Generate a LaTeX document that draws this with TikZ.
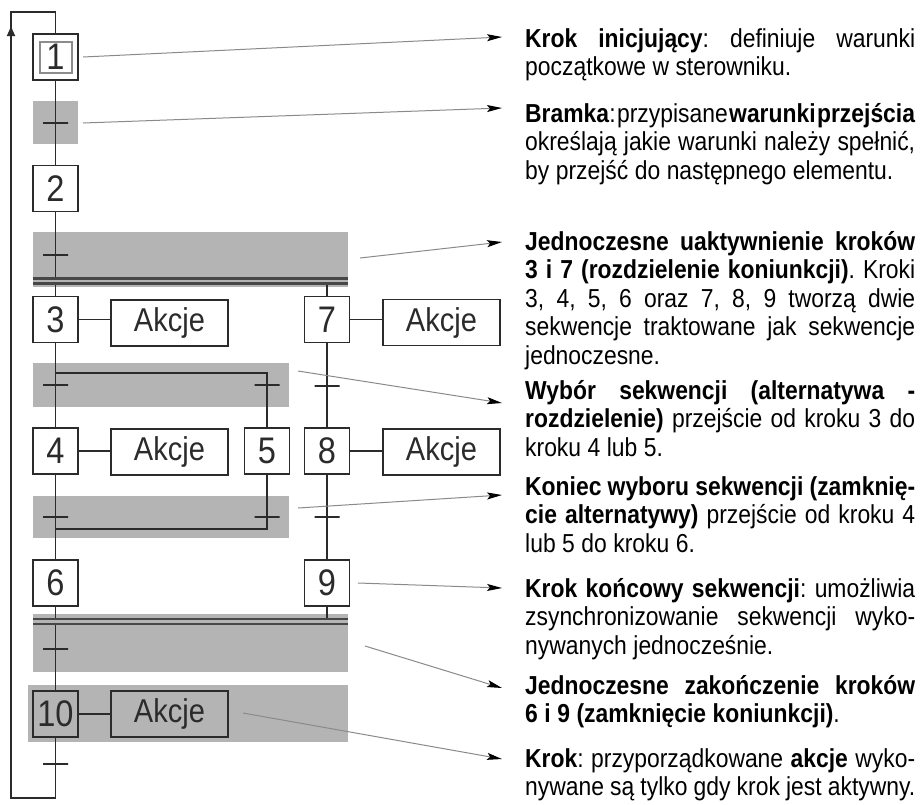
\documentclass[tikz,border=0pt]{standalone}
\usepackage{fontspec}
\setmainfont{Liberation Sans}[FakeStretch=0.88]
\usetikzlibrary{arrows.meta}
\definecolor{ink}{HTML}{2B2B2B}
\definecolor{bandgray}{HTML}{B4B4B4}
\definecolor{leadgray}{HTML}{8A8A8A}
\newcommand{\notefont}{\fontsize{26}{28.5}\selectfont\frenchspacing
  \spaceskip=0.25em plus 0.8em minus 0.21em\relax
  \tolerance=9999\hyphenpenalty=10000\relax}
\tikzset{
  >=Latex,
  every node/.style={text=ink},
  stepbox/.style={draw=ink,line width=1.5pt,fill=white,minimum width=45pt,minimum height=46pt,inner sep=0pt,font=\fontsize{37}{37}\selectfont},
  initframe/.style={draw=black!45,line width=1.2pt,minimum width=32pt,minimum height=31pt,inner sep=0pt},
  actbox/.style={draw=ink,line width=1.4pt,fill=white,minimum width=117pt,minimum height=46pt,inner sep=0pt,font=\fontsize{33}{33}\selectfont},
  band/.style={fill=bandgray,draw=none,inner sep=0pt},
  tickmark/.style={draw=ink,line width=1.5pt,minimum width=25pt,minimum height=0pt,inner sep=0pt,outer sep=0pt},
  conn/.style={draw=ink,line width=1.6pt},
  syncbar/.style={draw=black!72,line width=2.2pt,double=bandgray,double distance=2.8pt},
  leader/.style={draw=leadgray,line width=1pt,-{Stealth[length=15pt,width=7pt,inset=3pt,color=black]}},
  note/.style={text width=390pt,align=justify,inner sep=0pt,text=black,font=\notefont},
}

\begin{document}
\begin{tikzpicture}[x=1pt,y=-1pt]
  \useasboundingbox (0,0) rectangle (921,804);

  % transition bands
  \node[band,minimum width=45pt,minimum height=43pt] (g1) at (55.5,122.5) {};
  \node[band,minimum width=315pt,minimum height=55pt] (g2) at (190.5,259.5) {};
  \node[band,minimum width=256pt,minimum height=44pt] (g3) at (161,385) {};
  \node[band,minimum width=256pt,minimum height=42pt] (g4) at (161,517) {};
  \node[band,minimum width=315pt,minimum height=58pt] (g5) at (190.5,643) {};
  \node[band,minimum width=320pt,minimum height=57pt] (g6) at (188,713.5) {};

  % steps
  \node[stepbox] (s1) at (55.5,57) {1};
  \node[initframe] (s1in) at (56,57.5) {};
  \node[stepbox] (s2) at (55.5,188.5) {2};
  \node[stepbox] (s3) at (55.5,319.5) {3};
  \node[stepbox] (s4) at (55.5,451) {4};
  \node[stepbox] (s5) at (267,451) {5};
  \node[stepbox] (s6) at (55.5,583) {6};
  \node[stepbox] (s7) at (327,319.5) {7};
  \node[stepbox] (s8) at (327,451) {8};
  \node[stepbox] (s9) at (327,583) {9};
  \node[stepbox,fill=none] (s10) at (55.5,714) {10};

  % actions
  \node[actbox] (act3) at (169.5,323) {Akcje};
  \node[actbox] (act4) at (169.5,452) {Akcje};
  \node[actbox] (act7) at (441.5,322.5) {Akcje};
  \node[actbox] (act8) at (441.5,452) {Akcje};
  \node[actbox,fill=none] (act10) at (169.5,714) {Akcje};

  % transitions
  \node[tickmark] (tr1) at (55.5,123) {};
  \node[tickmark] (tr2) at (55.5,255) {};
  \node[tickmark] (tr3a) at (55.5,385) {};
  \node[tickmark] (tr3b) at (267,385) {};
  \node[tickmark] (tr3c) at (327,386) {};
  \node[tickmark] (tr4a) at (55.5,517) {};
  \node[tickmark] (tr4b) at (267,517) {};
  \node[tickmark] (tr4c) at (327,517) {};
  \node[tickmark] (tr5) at (55.5,649) {};
  \node[tickmark] (tr6) at (55.5,764) {};

  \coordinate (sb1w) at (33,281);
  \coordinate (sb1e) at (348,281);
  \coordinate (sb2w) at (33,621.5);
  \coordinate (sb2e) at (348,621.5);
  \coordinate (orsplit) at (55.5,373);
  \coordinate (orjoin) at (55.5,529);
  \coordinate (rb) at (55.5,798);
  \coordinate (rl) at (11,798);
  \coordinate (rt) at (11,12);
  \coordinate (r1) at (55.5,12);
  \coordinate (rarr) at (11,25);

  % sequence links
  \draw[conn] (s1) -- (s2);
  \draw[conn] (s2) -- (s2 |- sb1w);
  \draw[conn] (s3 |- sb1w) -- (s3);
  \draw[conn] (s7 |- sb1w) -- (s7);
  \draw[conn] (s3) -- (s4);
  \draw[conn] (orsplit) -| (s5);
  \draw[conn] (s4) -- (s6);
  \draw[conn] (s5) |- (orjoin);
  \draw[conn] (s7) -- (s8);
  \draw[conn] (s8) -- (s9);
  \draw[conn] (s6) -- (s6 |- sb2w);
  \draw[conn] (s9) -- (s9 |- sb2w);
  \draw[conn] (s10 |- sb2w) -- (s10);
  \draw[conn] (s10) -- (rb) -- (rl) -- (rt) -- (r1) -- (s1);
  \draw[conn,-{Latex[length=11pt,width=9pt]}] (rl) -- (rarr);
  \draw[syncbar] (sb1w) -- (sb1e);
  \draw[syncbar] (sb2w) -- (sb2e);

  \draw[conn] (s3.east) -- (s3.east -| act3.west);
  \draw[conn] (s4.east) -- (s4.east -| act4.west);
  \draw[conn] (s7.east) -- (s7.east -| act7.west);
  \draw[conn] (s8.east) -- (s8.east -| act8.west);
  \draw[conn] (s10.east) -- (s10.east -| act10.west);

  % descriptions
  \node[note,anchor=base west] (n1) at (525,47) {\textbf{Krok inicjujący}: definiuje warunki\linebreak
    początkowe w sterowniku.};
  \node[note,anchor=base west] (n2) at (525,122) {\textbf{Bramka}: przypisane \textbf{warunki przejścia}\linebreak
    określają jakie warunki należy spełnić,\linebreak by przejść do następnego elementu.};
  \node[note,anchor=base west] (n3) at (525,250) {\textbf{Jednoczesne uaktywnienie kroków}\linebreak
    \textbf{3 i 7 (rozdzielenie koniunkcji)}. Kroki\linebreak 3, 4, 5, 6 oraz 7, 8, 9 tworzą dwie\linebreak
    sekwencje traktowane jak sekwencje\linebreak jednoczesne.};
  \node[note,anchor=base west] (n4) at (525,399) {\textbf{Wybór sekwencji (alternatywa -}\linebreak
    \textbf{rozdzielenie)} przejście od kroku 3 do\linebreak kroku 4 lub 5.};
  \node[note,anchor=base west] (n5) at (525,495) {\textbf{Koniec wyboru sekwencji (zamknię-}\linebreak
    \textbf{cie alternatywy)} przejście od kroku 4\linebreak lub 5 do kroku 6.};
  \node[note,anchor=base west] (n6) at (525,597) {\textbf{Krok końcowy sekwencji}: umożliwia\linebreak
    zsynchronizowanie sekwencji wyko-\linebreak nywanych jednocześnie.};
  \node[note,anchor=base west] (n7) at (525,694) {\textbf{Jednoczesne zakończenie kroków}\linebreak
    \textbf{6 i 9 (zamknięcie koniunkcji)}.};
  \node[note,anchor=base west] (n8) at (525,767) {\textbf{Krok}: przyporządkowane \textbf{akcje} wyko-\linebreak
    nywane są tylko gdy krok jest aktywny.};

  % pointers
  \coordinate (b1) at (83,57);   \coordinate (e1) at (502,37);
  \coordinate (b2) at (83,123);  \coordinate (e2) at (502,108);
  \coordinate (b3) at (360,258); \coordinate (e3) at (502,242);
  \coordinate (b4) at (298,371); \coordinate (e4) at (502,403);
  \coordinate (b5) at (298,508); \coordinate (e5) at (502,495);
  \coordinate (b6) at (358,583); \coordinate (e6) at (502,588);
  \coordinate (b7) at (365,646); \coordinate (e7) at (502,688);
  \coordinate (b8) at (243,713); \coordinate (e8) at (502,759);
  \foreach \i in {1,...,8}
    \draw[leader] (b\i) -- (e\i);
\end{tikzpicture}
\end{document}
